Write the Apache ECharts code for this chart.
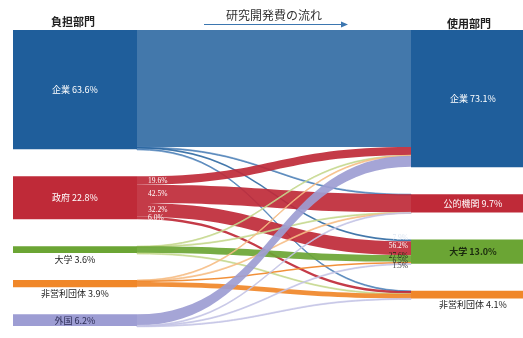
<!DOCTYPE html>
<html>
<head>
<meta charset="utf-8">
<script src="https://cdn.jsdelivr.net/npm/echarts@6/dist/echarts.min.js"></script>
<style>
  html, body { margin: 0; padding: 0; background: #fff; }
  #chart { width: 523px; height: 338px; }
</style>
</head>
<body>
<div id="chart"></div>
<script>
// 負担部門: sectors that fund R&D, share of total R&D expenditure (%)
const fundingSectors = ['企業', '政府', '大学', '非営利団体', '外国'];
const fundingShares = [63.6, 22.8, 3.6, 3.9, 6.2];

// 使用部門: sectors that perform R&D, share of total (%)
const usingSectors = ['企業', '公的機関', '大学', '非営利団体'];
const usingShares = [73.1, 9.7, 13.0, 4.1];

// 政府 funding split by 使用部門 (% of 政府 funding)
const governmentSplit = [19.6, 42.5, 32.2, 6.0];
// 大学 spending split by 負担部門 (% of 大学 spending)
const universityFunding = [7.9, 56.2, 27.6, 6.5, 1.5];

// remaining flows (% of total) into 企業, 公的機関, 非営利団体
const companyFlows = [62.3, 0.01, 0.15];
const universityFlows = [0.005, 0.005, 0.005];
const nonprofitFlows = [0.2, 0.01, 2.5];
const abroadFlows = [5.9, 0.01, 0.05];

const fundingColors = ['#1f5e9b', '#bf2a38', '#6ba534', '#f08729', '#9d9dd3'];
const linkOpacity = [0.84, 0.92, 0.92, 0.92, 0.92];
const hairColors = ['#4f82b8', '#d0606a', '#c5d88e', '#f6bd85', '#c4c4e6'];
const usingColors = ['#1f5e9b', '#bf2a38', '#6ba534', '#f08729'];

const srcId = s => '負担:' + s;
const dstId = s => '使用:' + s;

// flow matrix rows: funding sector, columns: 企業, 公的機関, 大学, 非営利団体
const toUniversity = universityFunding.map(p => usingShares[2] * p / 100);
const otherFlows = [companyFlows, null, universityFlows, nonprofitFlows, abroadFlows];
const flowRows = fundingSectors.map((s, i) => {
  if (i === 1) return governmentSplit.map(p => fundingShares[1] * p / 100);
  const r = otherFlows[i];
  return [r[0], r[1], toUniversity[i], r[2]];
});

const belowLabel = { position: 'bottom', distance: 2, color: '#222' };

const nodes = [];
fundingSectors.forEach((s, i) => {
  let label = { formatter: s + ' ' + fundingShares[i].toFixed(1) + '%' };
  if (s === '大学' || s === '非営利団体') Object.assign(label, belowLabel);
  if (s === '外国') label.color = '#2b2b55';
  nodes.push({ name: srcId(s), value: fundingShares[i], depth: 0,
    itemStyle: { color: fundingColors[i] }, label });
});
usingSectors.forEach((s, i) => {
  let label = { formatter: s + ' ' + usingShares[i].toFixed(1) + '%' };
  if (s === '非営利団体') Object.assign(label, belowLabel);
  if (s === '大学') { label.color = '#1b2a0e'; label.fontWeight = 'bold'; }
  nodes.push({ name: dstId(s), value: usingShares[i], depth: 1,
    itemStyle: { color: usingColors[i] }, label });
});

const links = [];
flowRows.forEach((row, i) => {
  row.forEach((v, j) => {
    const thin = v < 0.3;
    links.push({
      source: srcId(fundingSectors[i]),
      target: dstId(usingSectors[j]),
      value: v,
      lineStyle: thin
        ? { color: hairColors[i], opacity: 0.95, borderColor: hairColors[i], borderWidth: 0.7 }
        : { color: fundingColors[i], opacity: linkOpacity[i] }
    });
  });
});

const chart = echarts.init(document.getElementById('chart'), null, { renderer: 'canvas' });
const cjk = '"Noto Sans CJK JP", "Noto Sans", sans-serif';

chart.setOption({
  animation: false,
  backgroundColor: '#fff',
  series: [{
    type: 'sankey',
    left: 13, right: -12, top: 30, bottom: 12,
    nodeWidth: 124,
    nodeGap: 27,
    layoutIterations: 0,
    draggable: false,
    emphasis: { disabled: true },
    label: { show: true, position: 'inside', color: '#fff', fontSize: 9, fontFamily: cjk },
    lineStyle: { curveness: 0.5 },
    itemStyle: { borderWidth: 0 },
    data: nodes,
    links: links
  }]
});

// headings and the flow arrow
const graphics = [
  { type: 'text', x: 73, y: 22, style: { text: '負担部門', font: 'bold 11px ' + cjk, fill: '#222', align: 'center', verticalAlign: 'middle' } },
  { type: 'text', x: 469, y: 24, style: { text: '使用部門', font: 'bold 11px ' + cjk, fill: '#222', align: 'center', verticalAlign: 'middle' } },
  { type: 'text', x: 274, y: 15, style: { text: '研究開発費の流れ', font: '12px ' + cjk, fill: '#333', align: 'center', verticalAlign: 'middle' } },
  { type: 'line', shape: { x1: 204, y1: 24.5, x2: 342, y2: 24.5 }, style: { stroke: '#3b76b0', lineWidth: 1.2 } },
  { type: 'polygon', shape: { points: [[341, 21.5], [348, 24.5], [341, 27.5]] }, style: { fill: '#3b76b0' } }
];

// percentage labels on the 政府 and 大学 ends of the flows, placed from the sankey layout
const seriesModel = chart.getModel().getSeriesByIndex(0);
const graph = seriesModel.getGraph();
const box = seriesModel.layoutInfo;
const edges = graph.edges.slice().sort((a, b) => a.dataIndex - b.dataIndex);
const pctFont = '7.5px "Liberation Serif", serif';

edges.filter(e => e.node1.id === srcId('政府')).forEach((e, k) => {
  const n = e.node1.getLayout(), l = e.getLayout();
  graphics.push({ type: 'text', z: 100, x: box.x + n.x + n.dx + 11, y: box.y + n.y + l.sy + l.dy / 2,
    style: { text: governmentSplit[k].toFixed(1) + '%', font: pctFont, fill: '#fff', align: 'left', verticalAlign: 'middle' } });
});

const uniIn = edges.filter(e => e.node2.id === dstId('大学'));
const centers = uniIn.map(e => { const n = e.node2.getLayout(), l = e.getLayout(); return box.y + n.y + l.ty + l.dy / 2; });
const spread = [];
centers.forEach((c, k) => spread.push(k === 0 ? c : Math.max(c, spread[k - 1] + 4.8)));
const shift = (centers.reduce((a, b) => a + b, 0) - spread.reduce((a, b) => a + b, 0)) / centers.length - 1.5;
const uniLabelColors = ['#dfe7f2', '#fff', '#1b2a0e', '#333', '#333'];
uniIn.forEach((e, k) => {
  const n = e.node2.getLayout();
  graphics.push({ type: 'text', z: 100, x: box.x + n.x - 3, y: spread[k] + shift,
    style: { text: universityFunding[k].toFixed(1) + '%', font: pctFont, fill: uniLabelColors[k], align: 'right', verticalAlign: 'middle' } });
});

chart.setOption({ graphic: graphics });
</script>
</body>
</html>
